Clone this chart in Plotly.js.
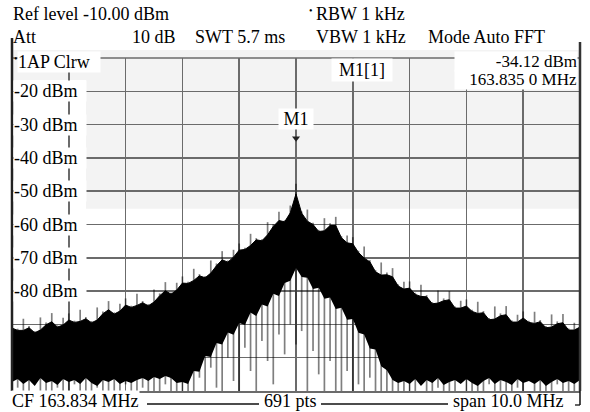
<!DOCTYPE html>
<html><head><meta charset="utf-8">
<script src="https://cdn.plot.ly/plotly-3.0.1.min.js"></script>
<style>html,body{margin:0;padding:0;background:#fff}#chart{width:590px;height:412px}</style>
</head><body><div id="chart"></div>
<script>
// ---- instrument settings ----
const centerMHz = 163.834;
const spanMHz = 10.0;
const refLevel = -10;      // top of screen, dBm
const bottomLevel = -110;  // bottom of screen, dBm
const yTickLabels = ["-20 dBm","-30 dBm","-40 dBm","-50 dBm","-60 dBm","-70 dBm","-80 dBm"];
const yTickValues = [-20,-30,-40,-50,-60,-70,-80];
const markerFreq = 163.835;
const markerLevel = -34.12;
const displayLineLevel = -55.3;

// ---- trace, every 0.1 MHz (101 columns) ----
const sampleStartMHz = 158.834;
const sampleStepMHz = 0.1;
// tops of the individual spikes
const peakDbm = [-89.1,-91.3,-88.3,-90.5,-92.0,-87.9,-89.4,-86.6,-90.3,-88.0,
 -86.7,-88.9,-85.6,-87.8,-89.0,-84.9,-86.1,-83.0,-86.4,-83.8,
 -82.2,-84.4,-80.8,-83.0,-83.9,-79.5,-80.7,-77.3,-80.4,-77.5,
 -75.6,-77.2,-73.3,-74.9,-75.5,-70.8,-71.7,-68.0,-70.8,-67.6,
 -65.7,-67.0,-62.8,-64.1,-64.4,-59.3,-59.9,-56.2,-58.7,-54.3,
 -47.8,
 -56.1,-55.5,-59.5,-61.6,-58.1,-59.6,-57.7,-63.5,-63.3,-63.8,
 -67.9,-66.6,-70.7,-73.7,-71.4,-74.4,-73.1,-78.0,-77.2,-77.1,
 -80.5,-78.1,-81.2,-83.3,-79.8,-82.2,-80.0,-84.6,-82.9,-82.5,
 -85.6,-83.2,-86.0,-88.1,-84.6,-86.7,-84.5,-88.8,-87.1,-86.1,
 -88.9,-86.2,-88.7,-90.5,-87.0,-89.1,-86.9,-91.2,-89.5,-88.8];
// top of the dense (solid black) part
const bodyDbm = [-91.1,-91.8,-91.8,-91.0,-92.5,-91.7,-90.1,-89.2,-90.8,-90.2,
 -88.7,-89.4,-89.1,-88.3,-89.5,-88.7,-86.8,-85.6,-86.9,-86.0,
 -84.2,-84.9,-84.3,-83.5,-84.4,-83.3,-81.4,-79.9,-80.9,-79.7,
 -77.6,-77.7,-76.8,-75.4,-76.0,-74.6,-72.4,-70.6,-71.3,-69.8,
 -67.7,-67.5,-66.3,-64.6,-64.9,-63.1,-60.6,-58.8,-59.2,-56.5,
 -50.8,
 -56.6,-59.0,-60.0,-62.1,-61.9,-60.3,-60.3,-64.0,-65.5,-65.8,
 -68.4,-70.1,-71.2,-74.2,-75.2,-75.1,-75.7,-78.5,-79.4,-79.1,
 -81.0,-81.6,-81.7,-83.8,-83.6,-82.9,-82.6,-85.1,-85.1,-84.5,
 -86.1,-86.7,-86.5,-88.6,-88.4,-87.4,-87.1,-89.3,-89.3,-88.1,
 -89.4,-89.7,-89.2,-91.0,-90.8,-89.8,-89.5,-91.7,-91.7,-90.8];
// lower edge of the dense part
const floorDbm = [-107.3,-106.4,-107.9,-106.7,-108.5,-106.1,-107.6,-107.0,-108.2,-106.4,
 -107.3,-106.7,-107.9,-106.1,-107.6,-108.5,-106.7,-107.3,-106.4,-107.9,
 -107.0,-107.6,-106.7,-106.1,-107.0,-105.8,-106.4,-105.5,-106.1,-107.6,
 -107.3,-107.9,-104.0,-104.2,-99.5,-99.8,-95.6,-96.0,-92.4,-93.1,
 -89.6,-90.2,-86.4,-87.5,-84.0,-84.6,-80.8,-81.5,-77.6,-76.9,
 -73.1,
 -75.8,-76.0,-79.4,-79.0,-82.3,-81.9,-85.4,-85.0,-88.6,-88.4,
 -92.5,-93.0,-97.2,-97.5,-102.6,-103.8,-106.7,-107.6,-107.0,-107.9,
 -106.4,-108.5,-106.7,-107.6,-106.1,-108.2,-107.3,-106.7,-107.9,-106.4,
 -107.6,-108.5,-107.0,-106.1,-107.9,-106.7,-107.3,-108.2,-106.4,-107.6,
 -107.0,-107.9,-106.7,-108.5,-107.3,-106.4,-107.6,-107.0,-107.9,-106.7];
// bottoms of the spikes
const dipDbm = [-112,-109,-112,-112,-108,-112,-110,-112,-109,-112,
 -112,-108,-112,-111,-112,-109,-112,-112,-110,-112,
 -108,-112,-112,-109,-112,-111,-112,-108,-112,-112,
 -110,-112,-112,-106,-112,-103,-109,-112,-100,-107,
 -112,-97,-104,-110,-95,-101,-108,-93,-99,-90,
 -96,
 -92,-112,-98,-105,-112,-101,-110,-112,-104,-112,
 -108,-112,-106,-112,-110,-112,-112,-112,-112,-110,
 -112,-108,-112,-112,-109,-112,-111,-112,-107,-112,
 -112,-110,-112,-108,-112,-111,-112,-112,-109,-112,
 -107,-112,-112,-110,-112,-108,-112,-112,-111,-112];

const freqMHz = peakDbm.map((_, i) => +(sampleStartMHz + i * sampleStepMHz).toFixed(4));

// vertical spike segments
const spikeX = [], spikeY = [];
freqMHz.forEach((f, i) => { spikeX.push(f, f, null); spikeY.push(peakDbm[i], dipDbm[i], null); });

// ---- geometry helpers (plot area in pixels) ----
const W = 590, H = 412, L = 12, R = 10, T = 58, B = 21;
const pw = W - L - R, ph = H - T - B;
const px = x => (x - L) / pw;
const py = y => (H - B - y) / ph;

const font = {family: "Liberation Serif, Times New Roman, serif", size: 18, color: "#000"};
const traces = [
  {x: freqMHz, y: floorDbm, mode: "lines", line: {width: 0, color: "#000"}, hoverinfo: "skip", showlegend: false},
  {x: freqMHz, y: bodyDbm, mode: "lines", line: {width: 1, color: "#000"}, fill: "tonexty", fillcolor: "#000", hoverinfo: "skip", showlegend: false},
  {x: spikeX, y: spikeY, mode: "lines", line: {width: 1.7, color: "rgba(0,0,0,0.5)"}, connectgaps: false, hoverinfo: "skip", showlegend: false},
  {x: [markerFreq], y: [markerLevel], mode: "markers", marker: {symbol: "triangle-down", size: 7, color: "#222"}, hoverinfo: "skip", showlegend: false}
];

const ann = (text, x, y, opts = {}) => Object.assign({text, x: px(x), y: py(y), xref: "paper", yref: "paper", showarrow: false, xanchor: "left", yanchor: "middle", font}, opts);
const small = Object.assign({}, font, {size: 10});
const f17 = Object.assign({}, font, {size: 17});

const annotations = [
  ann("Ref level -10.00 dBm", 11, 14),
  ann("Att", 11, 37),
  ann("10 dB", 130, 37),
  ann("SWT 5.7 ms", 193, 37),
  ann("•", 307, 11, {font: small}),
  ann("RBW 1 kHz", 314, 14),
  ann("VBW 1 kHz", 314, 37),
  ann("Mode Auto FFT", 426, 37),
  ann("•", 12, 58, {font: small}),
  ann("1AP Clrw", 17, 62, {bgcolor: "#fff", borderpad: 0, width: 82, align: "left"}),
  ann("M1[1]", 331, 70, {bgcolor: "#fff", borderpad: 1, width: 58, align: "center"}),
  ann("-34.12 dBm", 578, 61, {xanchor: "right", bgcolor: "#fff", borderpad: 0, width: 122, height: 19, align: "right", font: f17}),
  ann("163.835 0 MHz", 578, 80, {xanchor: "right", bgcolor: "#fff", borderpad: 0, width: 122, height: 19, align: "right", font: f17}),
  {text: "M1", x: markerFreq, y: markerLevel, xref: "x", yref: "y", showarrow: false, yanchor: "bottom", xanchor: "center", yshift: 8, font, bgcolor: "#fff", width: 34, borderpad: 0},
  ann("CF 163.834 MHz", 11, 401, {bgcolor: "#fff", borderpad: 0}),
  ann("691 pts", 262, 401),
  ann("span 10.0 MHz", 451, 401)
];
yTickLabels.forEach((t, i) => annotations.push({text: t, x: 0, y: yTickValues[i], xref: "paper", yref: "y", showarrow: false, xanchor: "left", yanchor: "middle", font, bgcolor: "#fff", width: 72, align: "left", borderpad: 0, xshift: 1}));

const shapes = [
  {type: "rect", xref: "paper", yref: "y", x0: 0, x1: 1, y0: displayLineLevel, y1: refLevel, fillcolor: "#f3f3f3", line: {width: 0}, layer: "below"},
  {type: "rect", xref: "paper", yref: "paper", x0: 0, x1: 1, y0: 1, y1: py(50), fillcolor: "#f3f3f3", line: {width: 0}, layer: "below"},
  {type: "line", xref: "paper", yref: "paper", x0: 0, x1: 1, y0: 1, y1: 1, line: {color: "#6b6b6b", width: 1.5}, layer: "below"},
  // white column behind the level labels
  {type: "rect", xref: "paper", yref: "paper", x0: 0, x1: px(86), y0: py(298), y1: py(80), fillcolor: "#fff", line: {width: 0}, layer: "between"},
  {type: "line", xref: "paper", yref: "paper", x0: px(147), x1: px(259), y0: py(404), y1: py(404), line: {color: "#111", width: 1.3}},
  {type: "line", xref: "paper", yref: "paper", x0: px(321), x1: px(448), y0: py(404), y1: py(404), line: {color: "#111", width: 1.3}},
  {type: "line", xref: "paper", yref: "paper", x0: px(575), x1: px(580), y0: py(405), y1: py(405), line: {color: "#111", width: 1.3}},
  {type: "line", xref: "paper", yref: "paper", x0: px(580), x1: px(580), y0: py(405), y1: py(391), line: {color: "#111", width: 1.5}},
  {type: "line", xref: "paper", yref: "paper", x0: 0, x1: 0, y0: 0, y1: py(38), line: {color: "#222", width: 2.5}},
  {type: "line", xref: "paper", yref: "paper", x0: 1, x1: 1, y0: 0, y1: py(42), line: {color: "#333", width: 2.5}}
];

const layout = {
  width: W, height: H,
  margin: {l: L, r: R, t: T, b: B, pad: 0},
  paper_bgcolor: "#fff", plot_bgcolor: "#fff",
  font,
  showlegend: false,
  xaxis: {range: [centerMHz - spanMHz / 2, centerMHz + spanMHz / 2], tick0: centerMHz - spanMHz / 2, dtick: spanMHz / 10,
          showticklabels: false, ticks: "", showgrid: true, gridcolor: "#6b6b6b", gridwidth: 1.5, zeroline: false,
          showline: true, linecolor: "#6b6b6b", linewidth: 1.5, mirror: false, fixedrange: true},
  yaxis: {range: [bottomLevel, refLevel], tick0: bottomLevel, dtick: 10, showticklabels: false, ticks: "",
          showgrid: true, gridcolor: "#6b6b6b", gridwidth: 1.5, zeroline: false, showline: false, fixedrange: true},
  annotations, shapes
};

Plotly.newPlot("chart", traces, layout, {staticPlot: true, displayModeBar: false});
</script></body></html>
